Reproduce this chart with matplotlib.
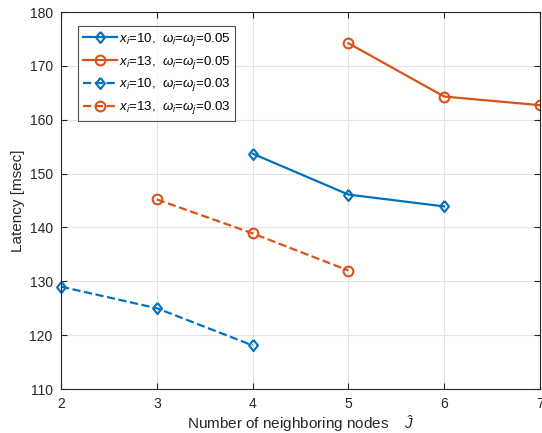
import matplotlib
matplotlib.use("Agg")
import matplotlib.pyplot as plt

plt.rcParams['font.family'] = ['Liberation Sans', 'DejaVu Sans']
plt.rcParams['mathtext.fontset'] = 'custom'
plt.rcParams['mathtext.it'] = 'Liberation Sans:italic'
plt.rcParams['mathtext.rm'] = 'Liberation Sans'

# Latency vs. number of neighboring nodes
nodes_a_005 = [4, 5, 6]
lat_a_005 = [153.7, 146.1, 143.9]
nodes_b_005 = [5, 6, 7]
lat_b_005 = [174.2, 164.3, 162.7]
nodes_a_003 = [2, 3, 4]
lat_a_003 = [129.0, 125.0, 118.1]
nodes_b_003 = [3, 4, 5]
lat_b_003 = [145.2, 138.9, 132.0]

labels = [
    r"$x_i$=10,  $\omega_i$=$\omega_j$=0.05",
    r"$x_i$=13,  $\omega_i$=$\omega_j$=0.05",
    r"$x_i$=10,  $\omega_i$=$\omega_j$=0.03",
    r"$x_i$=13,  $\omega_i$=$\omega_j$=0.03",
]
x_ticks = [2, 3, 4, 5, 6, 7]
y_ticks = [110, 120, 130, 140, 150, 160, 170, 180]

blue = '#0072BD'
orange = '#D95319'

# slightly tall diamond
diamond = [(0, 1), (0.8, 0), (0, -1), (-0.8, 0), (0, 1)]

fig = plt.figure(figsize=(5.42, 4.33), dpi=100)
ax = fig.add_axes([61 / 542, 1 - 389 / 433, (540 - 61) / 542, (389 - 12) / 433])

common = dict(linewidth=1.6, markerfacecolor='none', markeredgewidth=1.5)
ax.plot(nodes_a_005, lat_a_005, '-', marker=diamond, markersize=8, color=blue, label=labels[0], **common)
ax.plot(nodes_b_005, lat_b_005, '-', marker='o', markersize=7, color=orange, label=labels[1], **common)
ax.plot(nodes_a_003, lat_a_003, '--', marker=diamond, markersize=8, color=blue, label=labels[2], clip_on=False, **common)
ax.plot(nodes_b_003, lat_b_003, '--', marker='o', markersize=7, color=orange, label=labels[3], **common)

ax.set_xlim(2, 7)
ax.set_ylim(110, 180)
ax.set_xticks(x_ticks)
ax.set_yticks(y_ticks)
ax.grid(True, color='#e3e3e3', linewidth=0.8)
ax.set_axisbelow(True)
ax.tick_params(direction='in', top=True, right=True, length=4, width=0.8,
               labelsize=10, colors='#262626', pad=6)
for sp in ax.spines.values():
    sp.set_color('#262626')
    sp.set_linewidth(0.8)

ax.set_xlabel(r"Number of neighboring nodes    $\hat{J}$", fontsize=11, color='#262626', labelpad=1)
ax.set_ylabel("Latency [msec]", fontsize=11, color='#262626', labelpad=3)

leg = ax.legend(loc='upper left', bbox_to_anchor=(0.0355, 0.963), fontsize=9.5,
                frameon=True, fancybox=False, edgecolor='#262626',
                handlelength=2.6, borderpad=0.35, labelspacing=0.45, handletextpad=0.15,
                borderaxespad=0.0)
leg.get_frame().set_linewidth(0.8)

fig.savefig("out.png", dpi=100)
